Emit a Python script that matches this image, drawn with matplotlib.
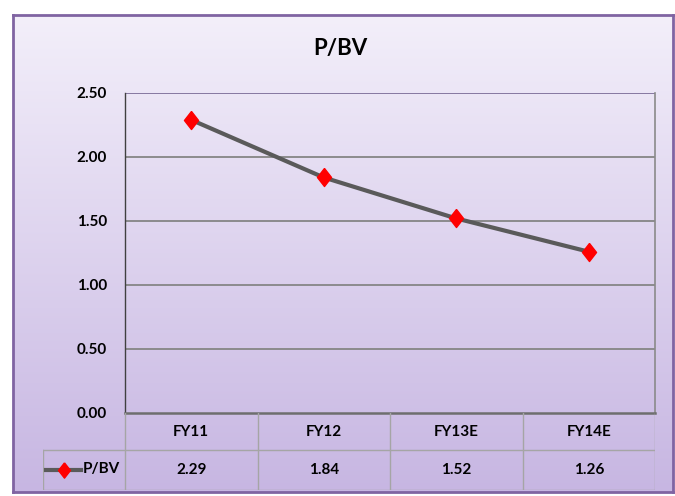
import numpy as np
import matplotlib.pyplot as plt

# data
years = ['FY11', 'FY12', 'FY13E', 'FY14E']
pbv = [2.29, 1.84, 1.52, 1.26]
yticks = [0.0, 0.5, 1.0, 1.5, 2.0, 2.5]

W, H = 675, 496
plt.rcParams['font.family'] = ['Lato', 'DejaVu Sans']
fig = plt.figure(figsize=(W / 100, H / 100), dpi=100)
fig.patch.set_facecolor('white')

# slightly tall diamond like the original chart
diamond = [(0, 1), (0.78, 0), (0, -1), (-0.78, 0), (0, 1)]


def box(l, t, r, b):
    return [l / W, 1 - b / H, (r - l) / W, (b - t) / H]


# gradient background frame
bg = fig.add_axes(box(13, 15, 673, 492))
grad = np.linspace(0, 1, 256).reshape(-1, 1)
top = np.array([0xF3, 0xEF, 0xFA]) / 255
bot = np.array([0xC7, 0xB6, 0xE2]) / 255
img = top + grad[..., None] * (bot - top)
bg.imshow(img, aspect='auto', extent=[0, 1, 0, 1])
bg.set_xticks([])
bg.set_yticks([])
for s in bg.spines.values():
    s.set_color('#8064A2')
    s.set_linewidth(2)

# main plot
ax = fig.add_axes(box(125, 93, 655, 413))
ax.set_facecolor('none')
x = np.arange(len(years))
ax.set_xlim(-0.5, 3.5)
ax.set_ylim(0, 2.5)
ax.set_yticks(yticks)
ax.set_yticklabels(['%.2f' % v for v in yticks], fontsize=11, fontweight='bold')
ax.set_xticks([])
ax.tick_params(axis='y', length=0, pad=13)
for v in yticks[1:-1]:
    ax.axhline(v, color='#858585', lw=1.3, zorder=1)
ax.axhline(2.5, color='#7E6F9A', lw=1.3, zorder=1)
ax.spines['top'].set_visible(False)
ax.spines['left'].set_color('#404040')
ax.spines['left'].set_linewidth(1)
ax.spines['right'].set_color('#8A8A8A')
ax.spines['right'].set_linewidth(1.2)
ax.spines['bottom'].set_color('#6E6E6E')
ax.spines['bottom'].set_linewidth(1.8)
ax.plot(x, pbv, color='#5A5A5A', lw=3, zorder=3)
ax.plot(x, pbv, ls='none', marker=diamond, ms=13, color='#FF0000', zorder=4)

fig.text(340 / W, 1 - 48 / H, 'P/BV', ha='center', va='center', fontsize=16, fontweight='bold')

# data table under the plot
tb = fig.add_axes(box(43, 413, 655, 490))
left_ext = 82 / 132.5
tb.set_xlim(-0.5 - left_ext, 3.5)
tb.set_ylim(0, 2)
tb.axis('off')
tb.patch.set_visible(False)
gc = '#A5A5A5'
for xv in np.arange(-0.5, 4.0, 1.0):
    tb.plot([xv, xv], [0, 2], color=gc, lw=1)
tb.plot([-0.5 - left_ext] * 2, [0, 1.04], color=gc, lw=1)
tb.plot([-0.5 - left_ext, 3.5], [1.04, 1.04], color=gc, lw=1)
tb.plot([-0.5 - left_ext, 3.5], [0, 0], color=gc, lw=1)
for i, (yr, v) in enumerate(zip(years, pbv)):
    tb.text(i, 1.5, yr, ha='center', va='center', fontsize=11, fontweight='bold')
    tb.text(i, 0.52, '%.2f' % v, ha='center', va='center', fontsize=11, fontweight='bold')
lx0 = -0.5 - left_ext + 0.02
tb.plot([lx0, lx0 + 0.27], [0.52, 0.52], color='#5A5A5A', lw=3)
tb.plot([lx0 + 0.135], [0.52], marker=diamond, ms=11, color='#FF0000', ls='none')
tb.text(lx0 + 0.28, 0.54, 'P/BV', ha='left', va='center', fontsize=11, fontweight='bold')

fig.savefig('out.png', dpi=100)
